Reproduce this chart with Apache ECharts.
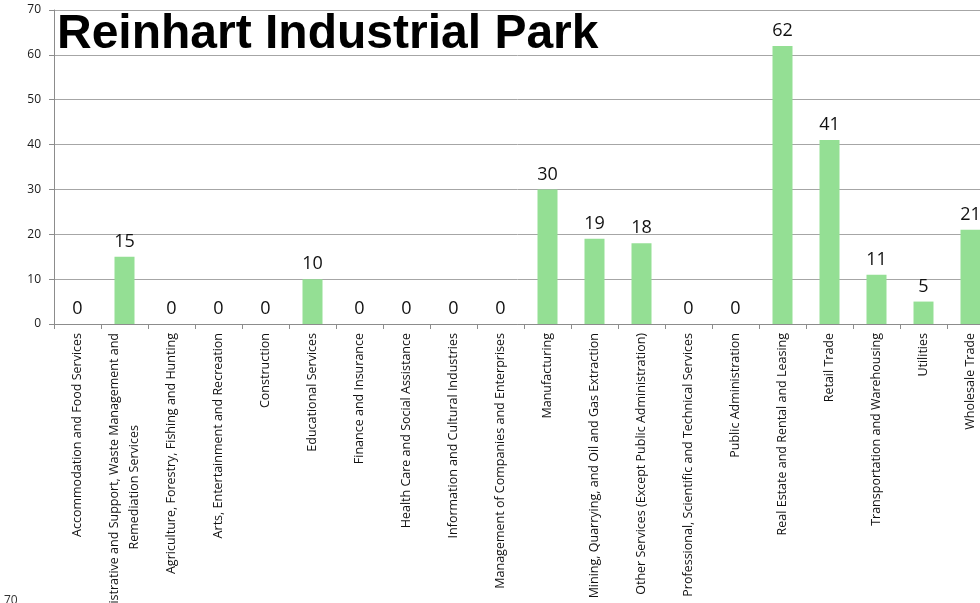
<!DOCTYPE html>
<html>
<head>
<meta charset="utf-8">
<title>Reinhart Industrial Park</title>
<script src="https://cdn.jsdelivr.net/npm/echarts@6/dist/echarts.min.js"></script>
<style>
  html, body { margin: 0; padding: 0; background: #ffffff; }
  #chart { width: 980px; height: 603px; }
</style>
</head>
<body>
<div id="chart"></div>
<script>
// Businesses by industry sector
const categories = [
  'Accommodation and Food Services',
  'Administrative and Support, Waste Management and\nRemediation Services',
  'Agriculture, Forestry, Fishing and Hunting',
  'Arts, Entertainment and Recreation',
  'Construction',
  'Educational Services',
  'Finance and Insurance',
  'Health Care and Social Assistance',
  'Information and Cultural Industries',
  'Management of Companies and Enterprises',
  'Manufacturing',
  'Mining, Quarrying, and Oil and Gas Extraction',
  'Other Services (Except Public Administration)',
  'Professional, Scientific and Technical Services',
  'Public Administration',
  'Real Estate and Rental and Leasing',
  'Retail Trade',
  'Transportation and Warehousing',
  'Utilities',
  'Wholesale Trade'
];
const counts = [0, 15, 0, 0, 0, 10, 0, 0, 0, 0, 30, 19, 18, 0, 0, 62, 41, 11, 5, 21];
const yTicks = [0, 10, 20, 30, 40, 50, 60, 70];

const chart = echarts.init(document.getElementById('chart'), null, { renderer: 'canvas' });
const labelFont = '"Open Sans", "Noto Sans", sans-serif';

chart.setOption({
  animation: false,
  backgroundColor: '#ffffff',
  grid: { left: 54, top: 10, width: 940, height: 314, containLabel: false, outerBoundsMode: 'none' },
  graphic: [
    {
      type: 'rect', left: 57, top: 12, z: 50,
      shape: { width: 546, height: 42 },
      style: { fill: '#ffffff' }
    },
    {
      type: 'text', left: 57, top: 11, z: 51,
      style: {
        text: 'Reinhart Industrial Park',
        font: 'bold 48px "Liberation Sans", Arial, sans-serif',
        fill: '#000000'
      }
    },
    {
      type: 'text', left: 4, top: 595, z: 51,
      style: { text: '70', font: '12px ' + labelFont, fill: '#333333' }
    }
  ],
  xAxis: {
    type: 'category',
    data: categories,
    boundaryGap: true,
    axisLine: { show: true, lineStyle: { color: '#8c8c8c', width: 1 } },
    axisTick: { show: true, length: 5, alignWithLabel: false, lineStyle: { color: '#8c8c8c' } },
    axisLabel: {
      interval: 0,
      rotate: 90,
      margin: 9,
      color: '#111111',
      fontFamily: labelFont,
      fontSize: 12.5,
      formatter: function (v) {
        return v.split('\n').map(function (l) { return '{c|' + l + '}'; }).join('\n');
      },
      rich: { c: { align: 'center', fontSize: 12.5, fontFamily: labelFont, color: '#111111', lineHeight: 20 } }
    },
    splitLine: { show: false }
  },
  yAxis: {
    type: 'value',
    min: yTicks[0],
    max: yTicks[yTicks.length - 1],
    interval: 10,
    axisLine: { show: true, lineStyle: { color: '#8c8c8c', width: 1 } },
    axisTick: { show: true, length: 5, lineStyle: { color: '#8c8c8c' } },
    axisLabel: { color: '#1a1a1a', fontFamily: labelFont, fontSize: 12, margin: 13 },
    splitLine: { show: true, lineStyle: { color: '#a6a6a6', width: 1 } }
  },
  series: [{
    type: 'bar',
    data: counts,
    barWidth: 20,
    itemStyle: { color: '#94df94', borderWidth: 0 },
    label: {
      show: true,
      position: 'top',
      distance: 6,
      color: '#111111',
      fontFamily: labelFont,
      fontSize: 18
    }
  }]
});
</script>
</body>
</html>
